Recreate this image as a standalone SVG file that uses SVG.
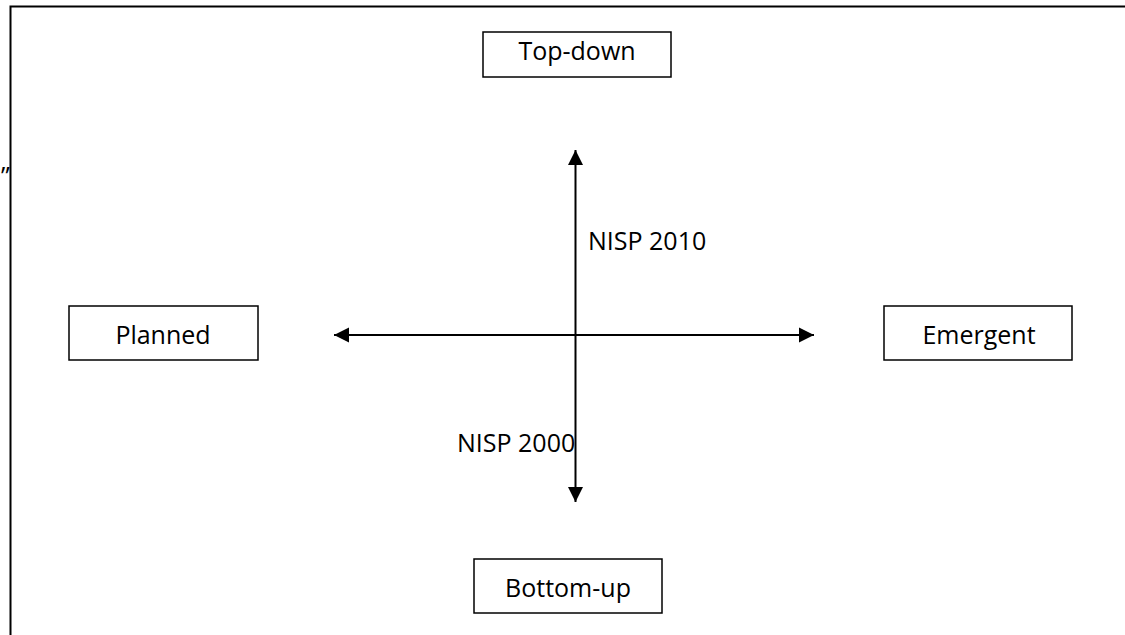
<svg xmlns="http://www.w3.org/2000/svg" width="1125" height="635" viewBox="0 0 1125 635">
<defs>
<style>
.box{fill:#fff;stroke:#000;stroke-width:1.5}
.lbl{font-family:"Open Sans","Noto Sans",sans-serif;font-size:25px;fill:#000}
.ln{stroke:#000;stroke-width:2;fill:none}
</style>
<marker id="ah" viewBox="0 0 10 10" refX="10" refY="5" markerWidth="15" markerHeight="16" markerUnits="userSpaceOnUse" orient="auto-start-reverse">
<path d="M0,0 L10,5 L0,10 Z" fill="#000"/>
</marker>
</defs>
<rect width="1125" height="635" fill="#fff"/>
<path d="M10.5,640 L10.5,6.5 L1130,6.5" fill="none" stroke="#000" stroke-width="2"/>
<text class="lbl" x="1" y="185">”</text>
<g id="connectors">
<line class="ln" x1="575.5" y1="150" x2="575.5" y2="502" marker-start="url(#ah)" marker-end="url(#ah)"/>
<line class="ln" x1="334" y1="335" x2="814" y2="335" marker-start="url(#ah)" marker-end="url(#ah)"/>
<text class="lbl" x="588" y="250">NISP 2010</text>
<text class="lbl" x="457" y="452">NISP 2000</text>
</g>
<g id="top-down">
<rect class="box" x="483" y="32" width="188" height="45"/>
<text class="lbl" x="577" y="60" text-anchor="middle">Top-down</text>
</g>
<g id="planned">
<rect class="box" x="69" y="306" width="189" height="54"/>
<text class="lbl" x="163" y="344" text-anchor="middle">Planned</text>
</g>
<g id="emergent">
<rect class="box" x="884" y="306" width="188" height="54"/>
<text class="lbl" x="979" y="344" text-anchor="middle">Emergent</text>
</g>
<g id="bottom-up">
<rect class="box" x="474" y="559" width="188" height="54"/>
<text class="lbl" x="568" y="597" text-anchor="middle">Bottom-up</text>
</g>
</svg>
